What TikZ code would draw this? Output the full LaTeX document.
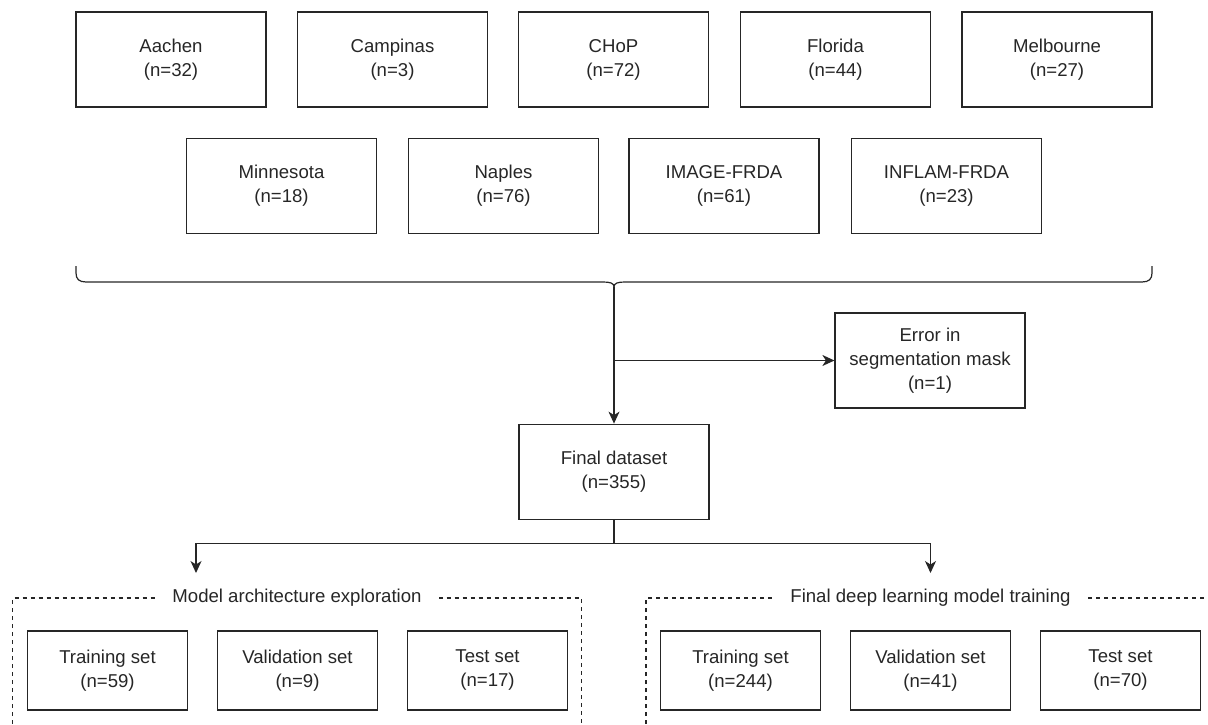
\documentclass[tikz,border=0pt]{standalone}
\usepackage{fontspec}
\setmainfont{Liberation Sans}
\usetikzlibrary{arrows.meta}
\definecolor{ink}{HTML}{262626}
\tikzset{
  site/.style={draw=ink, text=ink, line width=1.2pt, minimum width=190pt, minimum height=95pt, align=center, font=\fontsize{18.6}{24}\selectfont},
  setbox/.style={site, minimum width=160pt, minimum height=79pt},
  grouplabel/.style={fill=white, text=ink, inner xsep=17pt, inner ysep=12pt, font=\fontsize{18.6}{24}\selectfont},
  arr/.style={draw=ink, line width=1.2pt, -{Stealth[length=12pt, width=11pt, inset=3.5pt]}},
}
\begin{document}
\begin{tikzpicture}[x=1pt, y=-1pt]
  \useasboundingbox (0,0) rectangle (1208,724);
  % cohorts
  \node[site] (aachen) at (171,59.5) {Aachen\\(n=32)};
  \node[site] (campinas) at (392.5,59.5) {Campinas\\(n=3)};
  \node[site] (chop) at (613.5,59.5) {CHoP\\(n=72)};
  \node[site] (florida) at (835.5,59.5) {Florida\\(n=44)};
  \node[site] (melbourne) at (1057,59.5) {Melbourne\\(n=27)};
  \node[site] (minnesota) at (281.5,186) {Minnesota\\(n=18)};
  \node[site] (naples) at (503.5,186) {Naples\\(n=76)};
  \node[site] (image) at (724,186) {IMAGE-FRDA\\(n=61)};
  \node[site] (inflam) at (946.5,186) {INFLAM-FRDA\\(n=23)};
  % brace under the cohorts
  \draw[ink, line width=1.2pt] (76,266) -- (76,273) .. controls (76,279) and (79,282) .. (86,282)
    -- (603,282) .. controls (610,282) and (614,283) .. (614,287)
    .. controls (614,283) and (618,282) .. (625,282)
    -- (1142,282) .. controls (1149,282) and (1152,279) .. (1152,273) -- (1152,266);
  \coordinate (tip) at (614,287);
  \node[site] (err) at (930,360.5) {Error in\\segmentation mask\\(n=1)};
  \node[site] (final) at (614,471.7) {Final dataset\\(n=355)};
  \draw[arr] (tip) -- (final);
  \draw[arr] (tip |- err) -- (err);
  % split into the two experiments
  \coordinate (fork) at (614,543.3);
  \coordinate (archin) at (196,573);
  \coordinate (trainin) at (930.5,573);
  \draw[ink, line width=1.2pt] (final) -- (fork);
  \draw[arr] (fork) -| (archin);
  \draw[arr] (fork) -| (trainin);
  \draw[ink, line width=1.1pt, dash pattern=on 4pt off 4pt] (12.7,724) -- (12.7,598) -- (581.7,598) -- (581.7,724);
  \draw[ink, line width=1.1pt, dash pattern=on 4pt off 4pt] (646,724) -- (646,598) -- (1208,598);
  \node[grouplabel] (arch) at (297,598) {Model architecture exploration};
  \node[grouplabel] (train) at (930.5,598) {Final deep learning model training};
  \node[setbox] (trainA) at (107.5,670.5) {Training set\\(n=59)};
  \node[setbox] (valA) at (297.5,670.5) {Validation set\\(n=9)};
  \node[setbox] (testA) at (487.5,670.5) {Test set\\(n=17)};
  \node[setbox] (trainB) at (740.5,670.5) {Training set\\(n=244)};
  \node[setbox] (valB) at (930.5,670.5) {Validation set\\(n=41)};
  \node[setbox] (testB) at (1120.5,670.5) {Test set\\(n=70)};
\end{tikzpicture}
\end{document}
